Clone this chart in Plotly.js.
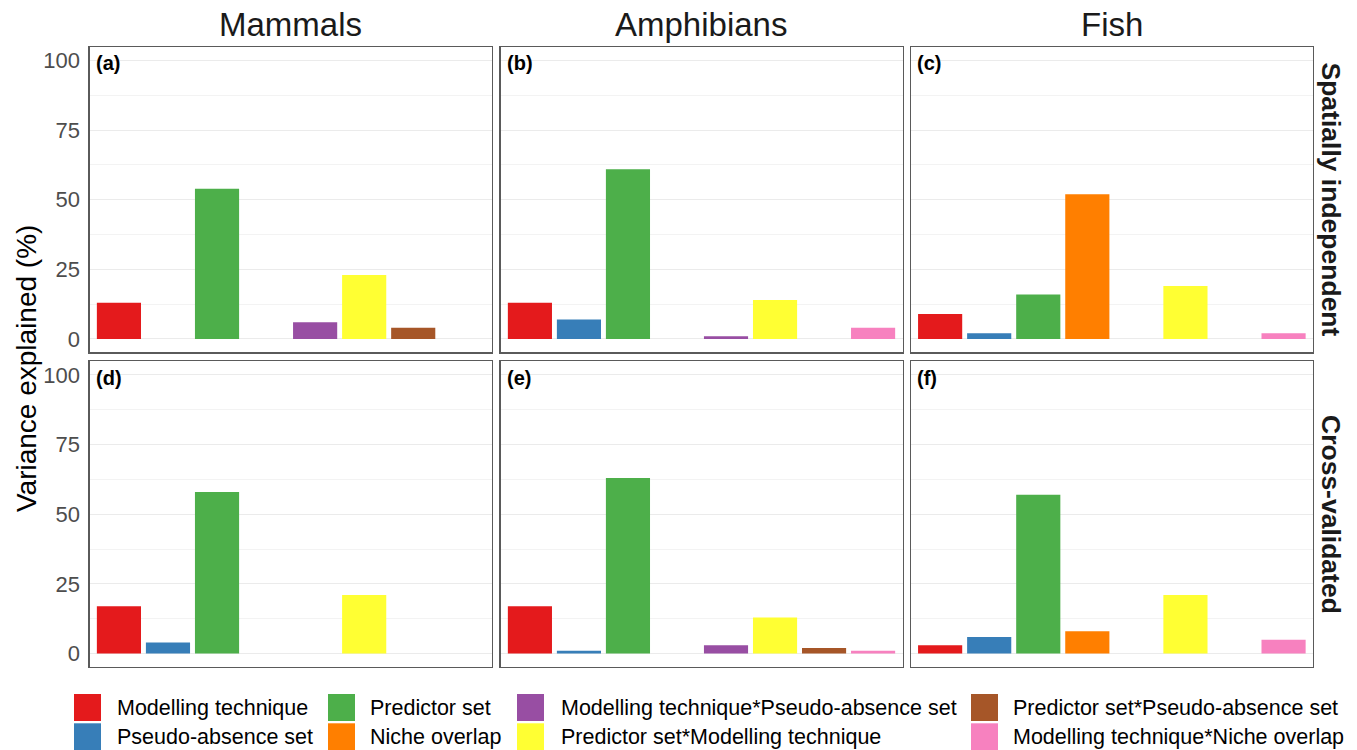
<!DOCTYPE html>
<html>
<head>
<meta charset="utf-8">
<script src="https://cdn.plot.ly/plotly-3.0.1.min.js"></script>
<style>html,body{margin:0;padding:0;background:#fff;}#chart{width:1357px;height:750px;}</style>
</head>
<body>
<div id="chart"></div>
<script>
// ---- data ----
const categories = [
  "Modelling technique",
  "Pseudo-absence set",
  "Predictor set",
  "Niche overlap",
  "Modelling technique*Pseudo-absence set",
  "Predictor set*Modelling technique",
  "Predictor set*Pseudo-absence set",
  "Modelling technique*Niche overlap"
];
const colors = ["#E41A1C","#377EB8","#4DAF4A","#FF7F00","#984EA3","#FFFF33","#A65628","#F781BF"];
const taxa = ["Mammals","Amphibians","Fish"];
const validations = ["Spatially independent","Cross-validated"];
const panelLabels = ["(a)","(b)","(c)","(d)","(e)","(f)"];

// Variance explained (%) per category, in category order
const mammalsSpatial    = [13, 0, 54, 0, 6, 23, 4, 0];
const amphibiansSpatial = [13, 7, 61, 0, 1, 14, 0, 4];
const fishSpatial       = [9, 2, 16, 52, 0, 19, 0, 2];
const mammalsCV         = [17, 4, 58, 0, 0, 21, 0, 0];
const amphibiansCV      = [17, 1, 63, 0, 3, 13, 2, 1];
const fishCV            = [3, 6, 57, 8, 0, 21, 0, 5];

const yTicks = [0, 25, 50, 75, 100];

// ---- layout helpers ----
const W = 1357, H = 750;
const panelValues = [mammalsSpatial, amphibiansSpatial, fishSpatial, mammalsCV, amphibiansCV, fishCV];
const colPx = [[89.5, 491.7], [500.5, 902.5], [910.7, 1313]];
const rowPx = [[46.7, 352.3], [361, 667]];
const font = "Liberation Sans, Arial, sans-serif";

const traces = [];
const layout = {
  width: W, height: H,
  margin: {l: 0, r: 0, t: 0, b: 0},
  paper_bgcolor: "#fff", plot_bgcolor: "#fff",
  showlegend: false,
  barmode: "overlay",
  font: {family: font, color: "#000"},
  shapes: [], annotations: []
};

for (let r = 0; r < 2; r++) {
  for (let c = 0; c < 3; c++) {
    const i = r * 3 + c;
    const n = i + 1;
    const xa = n === 1 ? "x" : "x" + n;
    const ya = n === 1 ? "y" : "y" + n;
    traces.push({
      type: "bar",
      x: categories, y: panelValues[i],
      xaxis: xa, yaxis: ya,
      width: 0.9,
      marker: {color: colors, line: {width: 0}},
      hoverinfo: "x+y"
    });
    const xk = n === 1 ? "xaxis" : "xaxis" + n;
    const yk = n === 1 ? "yaxis" : "yaxis" + n;
    layout[xk] = {
      domain: [colPx[c][0] / W, colPx[c][1] / W],
      anchor: ya,
      type: "category",
      categoryarray: categories, categoryorder: "array",
      range: [-0.6, 7.6],
      showticklabels: false, ticks: "",
      showgrid: false, zeroline: false,
      showline: true, mirror: true, linecolor: "#5a5a5a", linewidth: 1.2
    };
    layout[yk] = {
      domain: [1 - rowPx[r][1] / H, 1 - rowPx[r][0] / H],
      anchor: xa,
      range: [-4.8, 105],
      tickvals: yTicks,
      ticktext: yTicks.map(String),
      showticklabels: c === 0,
      tickfont: {family: font, size: 22, color: "#4D4D4D"},
      ticks: "", ticklabelstandoff: 4,
      showgrid: true, gridcolor: "#EBEBEB", gridwidth: 1,
      minor: {tickvals: [12.5, 37.5, 62.5, 87.5], showgrid: true, gridcolor: "#F3F3F3", gridwidth: 1},
      zeroline: false,
      showline: true, mirror: true, linecolor: "#5a5a5a", linewidth: 1.2
    };
    layout.annotations.push({
      text: "<b>" + panelLabels[i] + "</b>",
      xref: xk.replace("axis", "") + " domain", yref: ya + " domain",
      x: 0.01, y: 0.988, xanchor: "left", yanchor: "top",
      showarrow: false, font: {family: font, size: 20, color: "#000"}
    });
  }
}

// column strip titles
for (let c = 0; c < 3; c++) {
  layout.annotations.push({
    text: taxa[c], xref: "paper", yref: "paper",
    x: (colPx[c][0] + colPx[c][1]) / 2 / W, y: 1 - 24 / H,
    xanchor: "center", yanchor: "middle", showarrow: false,
    font: {family: font, size: 33, color: "#1A1A1A"}
  });
}
// row strip titles
for (let r = 0; r < 2; r++) {
  layout.annotations.push({
    text: "<b>" + validations[r] + "</b>", xref: "paper", yref: "paper",
    x: 1331 / W, y: 1 - (rowPx[r][0] + rowPx[r][1]) / 2 / H,
    xanchor: "center", yanchor: "middle", textangle: 90, showarrow: false,
    font: {family: font, size: 26.5, color: "#1A1A1A"}
  });
}
// y axis title
layout.annotations.push({
  text: "Variance explained (%)", xref: "paper", yref: "paper",
  x: 26 / W, y: 1 - 369 / H, xanchor: "center", yanchor: "middle",
  textangle: -90, showarrow: false,
  font: {family: font, size: 28, color: "#000"}
});

// legend (2 rows x 4 columns, filled by column)
const legSwatchX = [74, 328, 517, 971];
const legTextX = [114.5, 367.5, 558.5, 1011];
const legRowY = [707.5, 736.8];
const sw = 27;
categories.forEach((cat, k) => {
  const col = Math.floor(k / 2), row = k % 2;
  const x0 = legSwatchX[col], yc = legRowY[row];
  layout.shapes.push({
    type: "rect", xref: "paper", yref: "paper",
    x0: x0 / W, x1: (x0 + sw) / W,
    y0: 1 - (yc + sw / 2) / H, y1: 1 - (yc - sw / 2) / H,
    fillcolor: colors[k], line: {width: 0}
  });
  layout.annotations.push({
    text: cat, xref: "paper", yref: "paper",
    x: legTextX[col] / W, y: 1 - yc / H, xanchor: "left", yanchor: "middle",
    showarrow: false, font: {family: font, size: 21.5, color: "#000"}
  });
});

Plotly.newPlot("chart", traces, layout, {displayModeBar: false, staticPlot: true});
</script>
</body>
</html>
